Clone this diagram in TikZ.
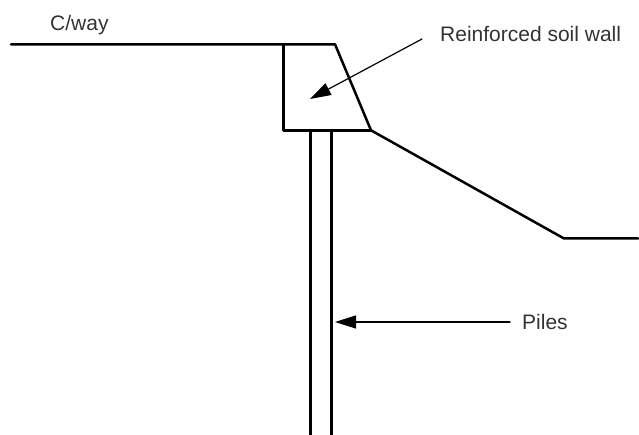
\documentclass[tikz,border=0pt]{standalone}
\usepackage{fontspec}
\setmainfont{Liberation Sans}
\usetikzlibrary{arrows.meta}
\definecolor{labelgrey}{rgb}{0.2,0.2,0.2}
\tikzstyle{every node}=[font=\fontsize{21pt}{24pt}\selectfont,inner sep=0pt,text=labelgrey]
\tikzset{wall/.style={line width=2.5pt},leader/.style={-{Triangle[length=21pt,width=13pt]},line width=1.2pt}}
\begin{document}
\begin{tikzpicture}[line cap=round,line join=round,x=1pt,y=-1pt]
\useasboundingbox (0,0) rectangle (639,435);
\draw [wall] (11,44.3) -- (335,44.3) -- (371,130.3) -- (564,238.5) -- (638,238.5);
\draw [wall] (283.7,44.3) -- (283.7,130.3) -- (371,130.3);
\draw [line cap=butt,wall] (310.5,130.3) -- (310.5,435);
\draw [line cap=butt,wall] (331.5,130.3) -- (331.5,435);
\node (cway) at (50,31) [anchor=base west] {C/way};
\node (wall) at (440,42) [anchor=base west] {Reinforced soil wall};
\node (piles) at (522,329) [anchor=base west] {Piles};
\coordinate (wallfrom) at (422,39);
\coordinate (walltip) at (310,99);
\coordinate (pilefrom) at (510,322);
\coordinate (piletip) at (335,322);
\draw [leader] (wallfrom) -- (walltip);
\draw [leader] (pilefrom) -- (piletip);
\end{tikzpicture}
\end{document}
